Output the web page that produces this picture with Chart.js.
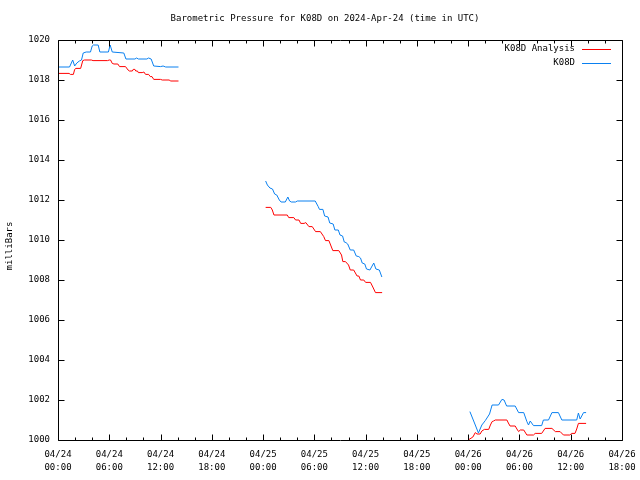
<!DOCTYPE html>
<html>
<head>
<meta charset="utf-8">
<script src="https://cdn.jsdelivr.net/npm/chart.js@4/dist/chart.umd.min.js"></script>
<style>
html,body{margin:0;padding:0;background:#fff;}
#wrap{width:640px;height:480px;}
</style>
</head>
<body>
<div id="wrap"><canvas id="c" width="640" height="480"></canvas></div>
<script>
// ---- Data (hours since 2024-04-24 00:00 UTC; null = gap) ----
const tickDates = ['04/24','04/24','04/24','04/24','04/25','04/25','04/25','04/25','04/26','04/26','04/26','04/26'];
const tickTimes = ['00:00','06:00','12:00','18:00','00:00','06:00','12:00','18:00','00:00','06:00','12:00','18:00'];

const analysisHours = [
  0.1,1.3,1.45,1.8,1.95,2.1,2.65,2.9,3.1,3.9,4.1,5.8,6.0,6.15,6.35,6.55,7.0,7.2,7.9,8.2,8.35,8.7,8.8,9.0,9.1,9.3,9.4,9.85,10.05,10.25,10.6,10.8,11.0,11.2,12.0,12.2,13.0,13.2,14.1,
  null,
  24.3,24.9,25.08,25.27,26.83,27.0,27.6,27.8,28.2,28.4,28.8,29.0,29.36,29.75,30.14,30.7,31.1,31.3,31.7,32.16,32.86,33.18,33.33,33.64,34.0,34.2,34.6,35.0,35.2,35.4,35.78,36.0,36.57,36.84,37.15,37.93,
  null,
  48.0,48.55,48.83,49.03,49.4,49.6,49.9,50.4,50.6,50.8,50.97,51.17,52.53,52.7,52.9,53.5,53.7,53.9,54.1,54.5,54.87,55.64,55.84,56.6,57.0,57.8,58.2,58.76,59.15,59.9,60.1,60.5,60.7,60.9,61.8
];
const analysisValues = [
  1018.33,1018.33,1018.28,1018.28,1018.53,1018.58,1018.58,1018.97,1019.0,1019.0,1018.97,1018.97,1019.0,1019.0,1018.83,1018.8,1018.8,1018.67,1018.67,1018.5,1018.45,1018.45,1018.53,1018.53,1018.45,1018.45,1018.37,1018.37,1018.4,1018.28,1018.28,1018.17,1018.17,1018.03,1018.03,1018.0,1018.0,1017.95,1017.95,
  null,
  1011.63,1011.63,1011.5,1011.25,1011.25,1011.12,1011.12,1011.0,1011.0,1010.83,1010.83,1010.87,1010.67,1010.67,1010.42,1010.42,1010.17,1009.97,1009.97,1009.47,1009.47,1009.25,1008.92,1008.92,1008.75,1008.5,1008.5,1008.2,1008.2,1008.0,1008.0,1007.88,1007.88,1007.65,1007.37,1007.37,
  null,
  1000.0,1000.15,1000.37,1000.3,1000.3,1000.45,1000.53,1000.53,1000.75,1000.92,1000.95,1001.0,1001.0,1000.85,1000.7,1000.7,1000.55,1000.42,1000.5,1000.5,1000.25,1000.25,1000.33,1000.33,1000.58,1000.58,1000.42,1000.42,1000.25,1000.25,1000.33,1000.33,1000.55,1000.83,1000.83
];

const obsHours = [
  0.1,1.35,1.72,1.95,2.2,2.5,2.75,2.95,3.3,3.8,4.0,4.15,4.7,4.9,5.9,6.1,6.35,7.7,7.95,9.0,9.2,9.4,10.4,10.6,10.9,11.2,12.0,12.3,12.6,14.1,
  null,
  24.3,24.5,24.8,25.1,25.35,25.6,25.9,26.1,26.6,26.9,27.1,27.3,27.8,28.0,30.1,30.45,30.6,31.0,31.2,31.6,31.8,32.2,32.4,32.8,33.0,33.3,33.5,33.7,33.9,34.2,34.6,34.9,35.2,35.4,35.6,35.9,36.1,36.5,36.95,37.2,37.6,37.9,
  null,
  48.2,48.83,49.2,49.6,50.0,50.5,50.8,51.55,51.95,52.2,52.5,53.5,53.9,54.5,54.87,55.06,55.26,55.64,56.6,56.8,57.4,57.8,58.56,58.96,60.7,60.9,61.1,61.5,61.8
];
const obsValues = [
  1018.65,1018.65,1019.0,1018.7,1018.85,1018.95,1019.0,1019.35,1019.4,1019.4,1019.7,1019.75,1019.75,1019.4,1019.4,1019.75,1019.4,1019.35,1019.05,1019.05,1019.1,1019.05,1019.05,1019.1,1019.05,1018.7,1018.67,1018.7,1018.65,1018.65,
  null,
  1012.95,1012.75,1012.6,1012.55,1012.3,1012.25,1012.0,1011.9,1011.9,1012.15,1011.95,1011.9,1011.9,1011.95,1011.95,1011.67,1011.53,1011.53,1011.2,1011.15,1010.85,1010.8,1010.5,1010.5,1010.25,1010.2,1009.9,1009.87,1009.8,1009.5,1009.5,1009.2,1009.17,1009.1,1008.85,1008.8,1008.55,1008.5,1008.85,1008.55,1008.5,1008.15,
  null,
  1001.42,1000.75,1000.35,1000.75,1000.97,1001.3,1001.75,1001.75,1002.03,1002.0,1001.7,1001.7,1001.37,1001.37,1000.92,1000.75,1000.95,1000.72,1000.72,1001.0,1001.0,1001.37,1001.37,1001.0,1001.0,1001.35,1001.05,1001.37,1001.37
];

const seriesNames = ['K08D Analysis','K08D'];
const seriesColors = ['#ff0000','#0a80f0'];

function toPoints(hs, vs){
  return hs.map((h,i)=> h===null ? {x:null,y:null} : {x:h,y:vs[i]});
}

const FONT = '"DejaVu Sans Mono", "Liberation Mono", monospace';

const framePlugin = {
  id:'frame',
  afterDraw(chart){
    const ctx = chart.ctx;
    const a = chart.chartArea;
    const xs = chart.scales.x, ys = chart.scales.y;
    const L = Math.round(a.left)+0.5, R = Math.round(a.right)+0.5;
    const T = Math.round(a.top)+0.5, B = Math.round(a.bottom)+0.5;
    ctx.save();
    ctx.strokeStyle = '#000';
    ctx.lineWidth = 1;
    ctx.beginPath();
    ctx.rect(L, T, R-L, B-T);
    for(let h=0; h<=66; h+=2){
      const px = Math.round(xs.getPixelForValue(h))+0.5;
      const len = (h%6===0)?6:3;
      ctx.moveTo(px,B); ctx.lineTo(px,B-len);
      ctx.moveTo(px,T); ctx.lineTo(px,T+len);
    }
    for(let v=1000; v<=1020; v+=2){
      const py = Math.round(ys.getPixelForValue(v))+0.5;
      ctx.moveTo(L,py); ctx.lineTo(L+6,py);
      ctx.moveTo(R,py); ctx.lineTo(R-6,py);
    }
    ctx.stroke();

    ctx.fillStyle = '#000';
    ctx.font = '9px ' + FONT;
    ctx.textAlign = 'center';
    ctx.textBaseline = 'middle';
    ctx.fillText('Barometric Pressure for K08D on 2024-Apr-24 (time in UTC)', 325, 19);

    ctx.save();
    ctx.translate(10, 246);
    ctx.rotate(-Math.PI/2);
    ctx.fillText('milliBars', 0, 0);
    ctx.restore();

    ctx.textAlign = 'right';
    seriesNames.forEach((name,i)=>{
      const y = 49 + i*14;
      ctx.fillStyle = '#000';
      ctx.fillText(name, 575, y);
      ctx.strokeStyle = seriesColors[i];
      ctx.lineWidth = 1;
      ctx.beginPath();
      ctx.moveTo(582, Math.round(y)+0.5);
      ctx.lineTo(611, Math.round(y)+0.5);
      ctx.stroke();
    });
    ctx.restore();
  }
};

new Chart(document.getElementById('c'), {
  type:'line',
  data:{
    datasets:[
      {label:seriesNames[0], data:toPoints(analysisHours, analysisValues), borderColor:seriesColors[0], borderWidth:1, pointRadius:0, tension:0, spanGaps:false, fill:false},
      {label:seriesNames[1], data:toPoints(obsHours, obsValues), borderColor:seriesColors[1], borderWidth:1, pointRadius:0, tension:0, spanGaps:false, fill:false}
    ]
  },
  options:{
    responsive:false,
    animation:false,
    devicePixelRatio:1,
    layout:{padding:{top:40,right:18,left:0,bottom:0}},
    plugins:{legend:{display:false}, title:{display:false}, tooltip:{enabled:false}},
    scales:{
      x:{
        type:'linear', min:0, max:66,
        grid:{display:false}, border:{display:false},
        ticks:{stepSize:6, autoSkip:false, maxRotation:0, padding:0, color:'#000',
          font:{family:FONT,size:9,lineHeight:1.45},
          callback:(v)=>{const i=Math.round(v/6); return [tickDates[i], tickTimes[i]];}},
        afterFit:(s)=>{s.height=40;}
      },
      y:{
        min:1000, max:1020,
        grid:{display:false}, border:{display:false},
        ticks:{stepSize:2, padding:0, color:'#000', font:{family:FONT,size:9},
          callback:(v)=>String(v)},
        afterFit:(s)=>{s.width=58;}
      }
    }
  },
  plugins:[framePlugin]
});
</script>
</body>
</html>
